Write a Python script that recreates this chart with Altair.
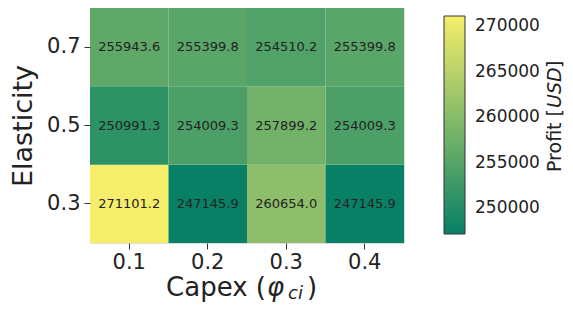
import altair as alt
import pandas as pd

capex = ["0.1", "0.2", "0.3", "0.4"]
elasticity = ["0.3", "0.5", "0.7"]
profit_e03 = [271101.2, 247145.9, 260654.0, 247145.9]
profit_e05 = [250991.3, 254009.3, 257899.2, 254009.3]
profit_e07 = [255943.6, 255399.8, 254510.2, 255399.8]
cbar_ticks = [250000, 255000, 260000, 265000, 270000]

rows = []
for e, vals in zip(elasticity, [profit_e03, profit_e05, profit_e07]):
    for c, v in zip(capex, vals):
        rows.append({"capex": c, "elasticity": e, "profit": v})
df = pd.DataFrame(rows)
vmin, vmax = df["profit"].min(), df["profit"].max()

FONT = "DejaVu Sans"

x_enc = alt.X("capex:O", sort=capex, title=None,
              scale=alt.Scale(paddingInner=0, paddingOuter=0),
              axis=alt.Axis(labelAngle=0, labelFontSize=21, labelFont=FONT, labelColor="#222",
                            tickSize=6, tickColor="#333", domain=False, labelPadding=2))
y_enc = alt.Y("elasticity:O", sort=elasticity[::-1],
              scale=alt.Scale(paddingInner=0, paddingOuter=0),
              axis=alt.Axis(title="Elasticity", titleFontSize=27, titleFont=FONT, titleFontWeight="normal",
                            titleColor="#222", labelFontSize=21, labelFont=FONT, labelColor="#222",
                            tickSize=6, tickColor="#333", domain=False, labelPadding=4, titlePadding=9))

rect = alt.Chart(df).mark_rect(opacity=1, strokeWidth=0).encode(
    x=x_enc, y=y_enc,
    color=alt.Color("profit:Q",
                    scale=alt.Scale(domain=[vmin, vmax], range=["#088066", "#f5ee6b"], interpolate="rgb"),
                    legend=alt.Legend(orient="none", legendX=354, legendY=8, direction="vertical",
                                      gradientLength=218, gradientThickness=21, title=None,
                                      values=cbar_ticks, labelFontSize=17, labelFont=FONT,
                                      labelColor="#222", gradientStrokeColor="#333",
                                      gradientStrokeWidth=1, labelOffset=10, format="d", padding=0)),
)

text = alt.Chart(df).mark_text(fontSize=13, font=FONT, color="#222").encode(
    x=alt.X("capex:O", sort=capex),
    y=alt.Y("elasticity:O", sort=elasticity[::-1]),
    text=alt.Text("profit:Q", format=".1f"),
)

one = pd.DataFrame({"k": [0]})

def label(txt, x, y, size, style="normal", align="left", angle=0):
    return alt.Chart(one).mark_text(text=txt, fontSize=size, font=FONT, fontStyle=style,
                                    align=align, baseline="alphabetic" if angle == 0 else "middle",
                                    angle=angle, color="#222").encode(
        x=alt.value(x), y=alt.value(y))

xt1 = label("Capex (", 176, 288, 26, align="right")
xt2 = label("φ", 177, 288, 26, style="italic")
xt3 = label("ci", 198, 291, 18, style="italic")
xt4 = label(")", 217, 288, 26)

ct1 = label("Profit [", 465, 164, 19, angle=270)
ct2 = label("USD", 465, 100, 19, style="italic", angle=270)
ct3 = label("]", 465, 60, 19, angle=270)

chart = alt.layer(rect, text, xt1, xt2, xt3, xt4, ct1, ct2, ct3).properties(
    width=314, height=235,
    autosize=alt.AutoSizeParams(type="none"),
    padding={"left": 82, "top": 0, "right": 161, "bottom": 59},
).configure_view(stroke="#222", strokeWidth=1).configure(background="white")

chart.save("out.html", embed_options={"renderer": "svg", "actions": False})
